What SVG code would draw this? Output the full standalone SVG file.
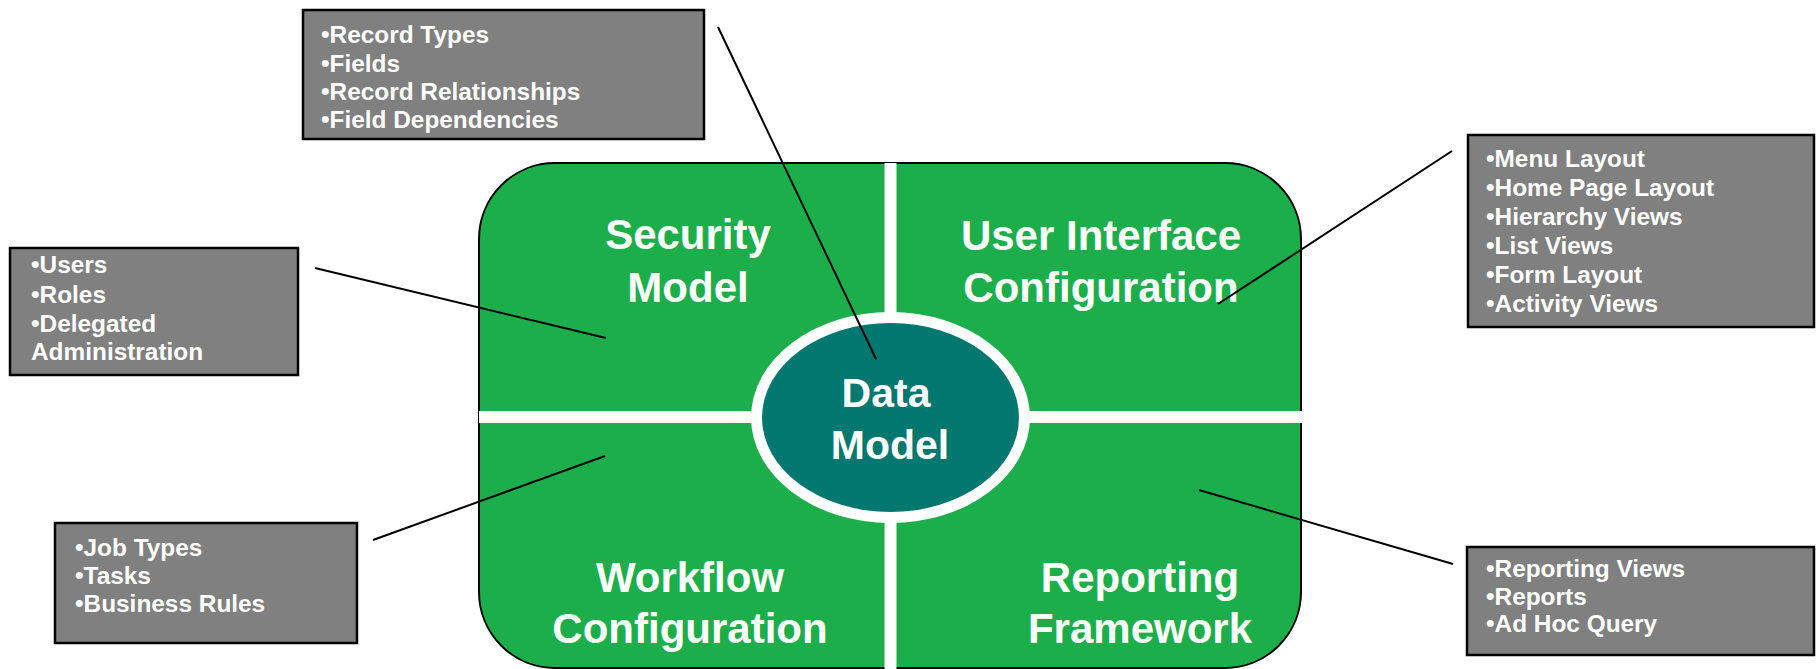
<svg xmlns="http://www.w3.org/2000/svg" width="1816" height="669" viewBox="0 0 1816 669">
<style>
.box{fill:#808080;stroke:#000;stroke-width:2.5}
.bt{font-family:"Liberation Sans",Arial,sans-serif;font-weight:bold;font-size:24.4px;fill:#fff}
.big{font-family:"Liberation Sans",Arial,sans-serif;font-weight:bold;font-size:42px;fill:#fff;text-anchor:middle}
.conn line{stroke:#000;stroke-width:2}
</style>
<rect width="1816" height="669" fill="#fff"/>
<g id="main">
<rect x="479" y="163" width="822" height="505" rx="76" ry="76" fill="#1cae4b" stroke="#000" stroke-width="2"/>
<rect x="884.5" y="163" width="12" height="506" fill="#fff"/>
<rect x="479" y="411" width="823" height="12" fill="#fff"/>
</g>
<g id="security"><text class="big" x="688" y="249">Security</text><text class="big" x="688" y="302">Model</text></g>
<g id="ui"><text class="big" x="1101" y="250">User Interface</text><text class="big" x="1101" y="302">Configuration</text></g>
<g id="workflow"><text class="big" x="690" y="592">Workflow</text><text class="big" x="690" y="643">Configuration</text></g>
<g id="reporting"><text class="big" x="1140" y="592">Reporting</text><text class="big" x="1140" y="643">Framework</text></g>
<g id="datamodel">
<ellipse cx="890.5" cy="417.5" rx="139.5" ry="105.5" fill="#fff"/>
<ellipse cx="890.5" cy="417.5" rx="128.5" ry="94.5" fill="#00776f"/>
<text class="big" x="886" y="407" style="font-size:41px">Data</text>
<text class="big" x="890" y="459" style="font-size:41px">Model</text>
</g>
<g id="box-data">
<rect class="box" x="303" y="10" width="401" height="129"/>
<text class="bt" x="321" y="43">•Record Types</text>
<text class="bt" x="321" y="72">•Fields</text>
<text class="bt" x="321" y="100">•Record Relationships</text>
<text class="bt" x="321" y="128">•Field Dependencies</text>
</g>
<g id="box-security">
<rect class="box" x="10" y="248" width="288" height="127"/>
<text class="bt" x="31" y="273">•Users</text>
<text class="bt" x="31" y="303">•Roles</text>
<text class="bt" x="31" y="332">•Delegated</text>
<text class="bt" x="31" y="360">Administration</text>
</g>
<g id="box-ui">
<rect class="box" x="1468" y="135" width="346" height="192"/>
<text class="bt" x="1486" y="167">•Menu Layout</text>
<text class="bt" x="1486" y="196">•Home Page Layout</text>
<text class="bt" x="1486" y="225">•Hierarchy Views</text>
<text class="bt" x="1486" y="254">•List Views</text>
<text class="bt" x="1486" y="283">•Form Layout</text>
<text class="bt" x="1486" y="312">•Activity Views</text>
</g>
<g id="box-workflow">
<rect class="box" x="55" y="523" width="302" height="120"/>
<text class="bt" x="75" y="556">•Job Types</text>
<text class="bt" x="75" y="584">•Tasks</text>
<text class="bt" x="75" y="612">•Business Rules</text>
</g>
<g id="box-reporting">
<rect class="box" x="1467" y="547" width="347" height="108"/>
<text class="bt" x="1486" y="577">•Reporting Views</text>
<text class="bt" x="1486" y="605">•Reports</text>
<text class="bt" x="1486" y="632">•Ad Hoc Query</text>
</g>
<g id="connectors" class="conn">
<line x1="718" y1="27" x2="876" y2="359"/>
<line x1="315" y1="268" x2="606" y2="338"/>
<line x1="1452" y1="151" x2="1218" y2="304"/>
<line x1="373" y1="540" x2="605" y2="456"/>
<line x1="1199" y1="490" x2="1453" y2="564"/>
</g>
</svg>
